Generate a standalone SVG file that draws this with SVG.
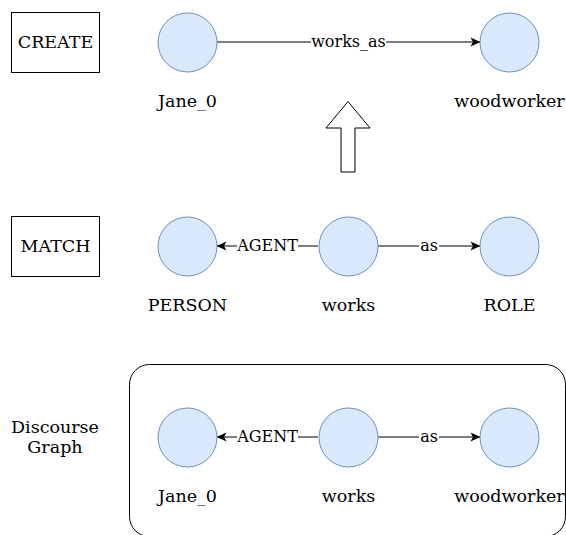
<svg xmlns="http://www.w3.org/2000/svg" width="566" height="535" viewBox="0 0 566 535">
<style>
text{font-family:"DejaVu Serif","Liberation Serif",serif;fill:#000;text-anchor:middle}
.lbl{font-size:17.5px}
.el{font-size:16px}
.node{fill:#dae8fc;stroke:#6c8ebf;stroke-width:1}
.box{fill:#fff;stroke:#000;stroke-width:1}
.edge{stroke:#000;stroke-width:1.2;fill:none;marker-end:url(#ah)}
.bg{fill:#fff}
</style>
<defs>
<marker id="ah" viewBox="0 0 10 10" refX="9.5" refY="5" markerWidth="11" markerHeight="10" markerUnits="userSpaceOnUse" orient="auto">
<path d="M0,0.5 L10,5 L0,9.5 L2.5,5 z" fill="#000"/>
</marker>
</defs>
<rect width="566" height="535" fill="#fff"/>
<g id="create-box"><rect class="box" x="11.5" y="12.5" width="88" height="60"/><text class="lbl" x="55.5" y="48">CREATE</text></g>
<g id="match-box"><rect class="box" x="11.5" y="216.5" width="88" height="60"/><text class="lbl" x="55.5" y="252">MATCH</text></g>
<g id="discourse-label"><text class="lbl" x="55" y="433">Discourse</text><text class="lbl" x="55" y="453">Graph</text></g>
<g id="container"><rect x="129.5" y="364.5" width="436" height="172" rx="20" fill="none" stroke="#000" stroke-width="1"/></g>
<g id="up-arrow"><path d="M348,101.5 L370,128 L355,128 L355,172 L341,172 L341,128 L326,128 Z" fill="#fff" stroke="#000" stroke-width="1"/></g>
<g id="connectors">
<line class="edge" x1="217" y1="42" x2="480" y2="42"/>
<rect class="bg" x="311" y="34" width="75" height="16"/>
<text class="el" x="348.5" y="47">works_as</text>
<line class="edge" x1="318" y1="246" x2="217" y2="246"/>
<rect class="bg" x="237" y="238" width="61" height="16"/>
<text class="el" x="267.5" y="251">AGENT</text>
<line class="edge" x1="378" y1="246" x2="480" y2="246"/>
<rect class="bg" x="419" y="238" width="20" height="16"/>
<text class="el" x="429" y="251">as</text>
<line class="edge" x1="318" y1="437" x2="217" y2="437"/>
<rect class="bg" x="237" y="429" width="61" height="16"/>
<text class="el" x="267.5" y="442">AGENT</text>
<line class="edge" x1="378" y1="437" x2="480" y2="437"/>
<rect class="bg" x="419" y="429" width="20" height="16"/>
<text class="el" x="429" y="442">as</text>
</g>
<g id="create-jane"><circle class="node" cx="187.5" cy="42.5" r="29.5"/><text class="lbl" x="187.5" y="107">Jane_0</text></g>
<g id="create-woodworker"><circle class="node" cx="509.5" cy="42.5" r="29.5"/><text class="lbl" x="509.5" y="107">woodworker</text></g>
<g id="match-person"><circle class="node" cx="187.5" cy="246.5" r="29.5"/><text class="lbl" x="187.5" y="311">PERSON</text></g>
<g id="match-works"><circle class="node" cx="348.5" cy="246.5" r="29.5"/><text class="lbl" x="348.5" y="311">works</text></g>
<g id="match-role"><circle class="node" cx="509.5" cy="246.5" r="29.5"/><text class="lbl" x="509.5" y="311">ROLE</text></g>
<g id="dg-jane"><circle class="node" cx="187.5" cy="437.5" r="29.5"/><text class="lbl" x="187.5" y="502">Jane_0</text></g>
<g id="dg-works"><circle class="node" cx="348.5" cy="437.5" r="29.5"/><text class="lbl" x="348.5" y="502">works</text></g>
<g id="dg-woodworker"><circle class="node" cx="509.5" cy="437.5" r="29.5"/><text class="lbl" x="509.5" y="502">woodworker</text></g>
</svg>
